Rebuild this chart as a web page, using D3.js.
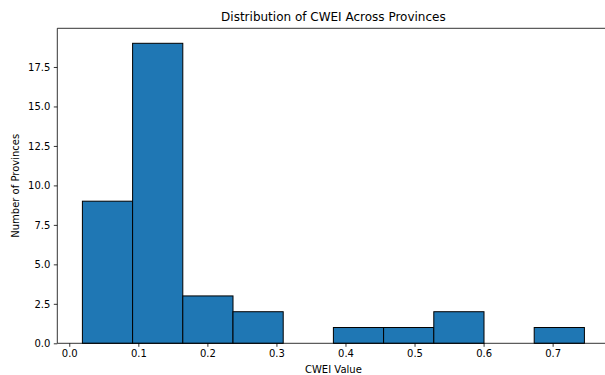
<!DOCTYPE html>
<html>
<head>
<meta charset="utf-8">
<script src="https://cdn.jsdelivr.net/npm/d3@7"></script>
<style>
  html, body { margin: 0; padding: 0; background: #fff; }
  svg { display: block; font-family: "DejaVu Sans", sans-serif; }
</style>
</head>
<body>
<svg id="chart" width="605" height="375"></svg>
<script>
// Histogram bins of CWEI values (10 equal-width bins)
const binStart = 0.019;
const binEnd = 0.746;
const binCounts = [9, 19, 3, 2, 0, 1, 1, 2, 0, 1];
const xTicks = [0.0, 0.1, 0.2, 0.3, 0.4, 0.5, 0.6, 0.7];
const yTicks = [0, 2.5, 5, 7.5, 10, 12.5, 15, 17.5];

const titleText = "Distribution of CWEI Across Provinces";
const xLabel = "CWEI Value";
const yLabel = "Number of Provinces";

const svg = d3.select("#chart");
const plotLeft = 57.3, plotRight = 609.5, plotTop = 28.3, plotBottom = 343.3;

const nBins = binCounts.length;
const binWidth = (binEnd - binStart) / nBins;
const bins = binCounts.map((c, i) => ({ x0: binStart + i * binWidth, x1: binStart + (i + 1) * binWidth, count: c }));

const xPad = (binEnd - binStart) * 0.05;
const x = d3.scaleLinear().domain([binStart - xPad, binEnd + xPad]).range([plotLeft, plotRight]);
const yMax = d3.max(binCounts) * 1.05;
const y = d3.scaleLinear().domain([0, yMax]).range([plotBottom, plotTop]);

// Bars
svg.append("g").selectAll("rect")
  .data(bins.filter(d => d.count > 0))
  .join("rect")
  .attr("x", d => x(d.x0))
  .attr("y", d => y(d.count))
  .attr("width", d => x(d.x1) - x(d.x0))
  .attr("height", d => y(0) - y(d.count))
  .attr("fill", "#1f77b4")
  .attr("stroke", "#000")
  .attr("stroke-width", 1);

// Axes
const xAxis = svg.append("g")
  .attr("transform", `translate(0,${plotBottom})`)
  .call(d3.axisBottom(x).tickValues(xTicks).tickFormat(d3.format(".1f")).tickSizeOuter(0).tickSize(3.5).tickPadding(3.5));
const yAxis = svg.append("g")
  .attr("transform", `translate(${plotLeft},0)`)
  .call(d3.axisLeft(y).tickValues(yTicks).tickFormat(d3.format(".1f")).tickSizeOuter(0).tickSize(3.5).tickPadding(3.5));

[xAxis, yAxis].forEach(g => {
  g.select(".domain").remove();
  g.selectAll(".tick line").attr("stroke", "#000").attr("stroke-width", 0.8);
  g.selectAll(".tick text").attr("fill", "#000").attr("font-size", 10).attr("font-family", "DejaVu Sans, sans-serif");
});

// Frame
const frame = svg.append("g").attr("stroke", "#000").attr("stroke-width", 0.8).attr("fill", "none");
frame.append("line").attr("x1", plotLeft).attr("x2", plotLeft).attr("y1", plotTop).attr("y2", plotBottom);
frame.append("line").attr("x1", plotLeft).attr("x2", plotRight).attr("y1", plotBottom).attr("y2", plotBottom);
frame.append("line").attr("x1", plotLeft).attr("x2", plotRight).attr("y1", plotTop).attr("y2", plotTop);
frame.append("line").attr("x1", plotRight).attr("x2", plotRight).attr("y1", plotTop).attr("y2", plotBottom);

// Title and labels
svg.append("text")
  .attr("x", (plotLeft + plotRight) / 2).attr("y", 21)
  .attr("text-anchor", "middle").attr("font-size", 12)
  .text(titleText);
svg.append("text")
  .attr("x", (plotLeft + plotRight) / 2).attr("y", 373)
  .attr("text-anchor", "middle").attr("font-size", 10)
  .text(xLabel);
svg.append("text")
  .attr("transform", `translate(19,${(plotTop + plotBottom) / 2}) rotate(-90)`)
  .attr("text-anchor", "middle").attr("font-size", 10)
  .text(yLabel);
</script>
</body>
</html>
